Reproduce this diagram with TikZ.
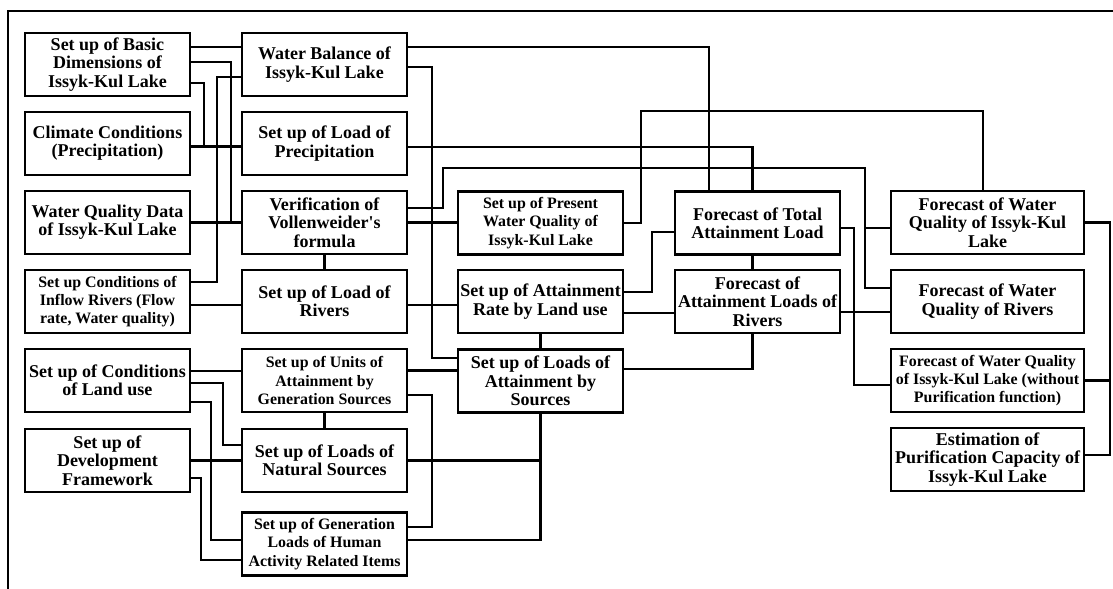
\documentclass[tikz,border=0pt]{standalone}
\usepackage{fontspec}
\setmainfont{Liberation Serif}
\usetikzlibrary{calc}
\tikzset{
  blk/.style={draw, line width=2.1bp, minimum width=165bp, minimum height=63bp,
    inner sep=0pt, align=center, font=\bfseries\fontsize{18bp}{18.3bp}\selectfont},
  sml/.style={font=\bfseries\fontsize{15.9bp}{18.3bp}\selectfont},
  wide/.style={minimum width=193bp},
  wire/.style={line width=2.1bp},
  frame/.style={line width=1.8bp},
}
\begin{document}
\begin{tikzpicture}[x=1bp,y=-1bp]
\useasboundingbox (0,0) rectangle (1113,589);
% outer frame
\draw[frame] (8,589) -- (8,11) -- (1113,11);

% column 1
\node[blk] (B1) at (107.5,64.5) {Set up of Basic\\Dimensions of\\Issyk-Kul Lake};
\node[blk] (B2) at (107.5,143.5) {Climate Conditions\\(Precipitation)};
\node[blk] (B3) at (107.5,222.5) {Water Quality Data\\of Issyk-Kul Lake};
\node[blk,sml] (B4) at (107.5,301.5) {Set up Conditions of\\Inflow Rivers (Flow\\rate, Water quality)};
\node[blk] (B5) at (107.5,380.5) {Set up of Conditions\\of Land use};
\node[blk] (B6) at (107.5,460.5) {Set up of\\Development\\Framework};

% column 2
\node[blk] (C1) at (324.5,64.5) {Water Balance of\\Issyk-Kul Lake};
\node[blk] (C2) at (324.5,143.5) {Set up of Load of\\Precipitation};
\node[blk] (C3) at (324.5,222.5) {Verification of\\Vollenweider\textquotesingle s\\formula};
\node[blk] (C4) at (324.5,301.5) {Set up of Load of\\Rivers};
\node[blk,sml] (C5) at (324.5,380.5) {Set up of Units of\\Attainment by\\Generation Sources};
\node[blk] (C6) at (324.5,460.5) {Set up of Loads of\\Natural Sources};
\node[blk,sml] (C7) at (324.5,544) {Set up of Generation\\Loads of Human\\Activity Related Items};

% column 3
\node[blk,sml] (D1) at (540.5,223) {Set up of Present\\Water Quality of\\Issyk-Kul Lake};
\node[blk] (D2) at (540.5,301.5) {Set up of Attainment\\Rate by Land use};
\node[blk] (D3) at (540.5,381) {Set up of Loads of\\Attainment by\\Sources};

% column 4
\node[blk] (E1) at (757.5,223) {Forecast of Total\\Attainment Load};
\node[blk] (E2) at (757.5,301.5) {Forecast of\\Attainment Loads of\\Rivers};

% column 5
\node[blk,wide] (F1) at (987.5,222.5) {Forecast of Water\\Quality of Issyk-Kul\\Lake};
\node[blk,wide] (F2) at (987.5,301.5) {Forecast of Water\\Quality of Rivers};
\node[blk,wide,sml] (F3) at (987.5,380.5) {Forecast of Water Quality\\of Issyk-Kul Lake (without\\Purification function)};
\node[blk,wide] (F4) at (987.5,459.5) {Estimation of\\Purification Capacity of\\Issyk-Kul Lake};

% connectors, left block
\draw[wire] ([yshift=17.5bp]B1.east) -- ([yshift=17.5bp]B1.east -| C1.west);
\draw[wire] ([yshift=2.5bp]B1.east) -| ([xshift=-10bp]C3.west);
\draw[wire] ([yshift=-18.5bp]B1.east) -| ([xshift=-37bp,yshift=-3bp]C2.west);
\draw[wire] ([yshift=19.5bp]B4.east) -| ([xshift=-24bp,yshift=-12.5bp]C1.west) -- ([yshift=-12.5bp]C1.west);
\draw[wire] ([yshift=-3bp]B2.east) -- ([yshift=-3bp]B2.east -| C2.west);
\draw[wire] (B3.east) -- (B3.east -| C3.west);
\draw[wire] ([yshift=-3.5bp]B4.east) -- ([yshift=-3.5bp]B4.east -| C4.west);
\draw[wire] (C3.south) -- (C4.north);
\draw[wire] ([yshift=9.5bp]B5.east) -- ([yshift=9.5bp]B5.east -| C5.west);
\draw[wire] ([yshift=-2.5bp]B5.east) -| ([xshift=-18bp,yshift=15.5bp]C6.west) -- ([yshift=15.5bp]C6.west);
\draw[wire] ([yshift=-21.5bp]B5.east) -| ([xshift=-30bp,yshift=4bp]C7.west) -- ([yshift=4bp]C7.west);
\draw[wire] (B6.east) -- (B6.east -| C6.west);
\draw[wire] ([yshift=-17.5bp]B6.east) -| ([xshift=-40bp,yshift=-16bp]C7.west) -- ([yshift=-16bp]C7.west);
\draw[wire] (C5.south) -- (C6.north);
\draw[wire] ([yshift=-14.5bp]C5.east) -| ([xshift=24bp,yshift=17bp]C7.east) -- ([yshift=17bp]C7.east);

% connectors, middle block
\draw[wire] (D3.south) |- (C6.east);
\draw[wire] (D3.south) |- ([yshift=4bp]C7.east);
\draw[wire] ([yshift=10bp]C5.east) -- ([yshift=10bp]C5.east -| D3.west);
\draw[wire] ([yshift=-2.5bp]C1.east) -| ([xshift=-25bp,yshift=23bp]D3.west) -- ([yshift=23bp]D3.west);
\draw[wire] ([yshift=17.5bp]C1.east) -| ([xshift=-48.5bp]E1.north);
\draw[wire] ([yshift=-3.5bp]C2.east) -| ([xshift=-5bp]E1.north);
\draw[wire] ([yshift=14.5bp]C3.east) -- ++(35,0) |- ([xshift=-25bp,yshift=54.5bp]F1.west)
  -- ([xshift=-25bp,yshift=13.5bp]F2.west) -- ([yshift=13.5bp]F2.west);
\draw[wire] ([xshift=-25bp,yshift=-5.5bp]F1.west) -- ([yshift=-5.5bp]F1.west);
\draw[wire] (C3.east) -- (C3.east -| D1.west);
\draw[wire] (D1.east) -- ++(17,0) -- ++(0,-112) -| ([xshift=-4.5bp]F1.north);
\draw[wire] ([yshift=-3.5bp]C4.east) -- ([yshift=-3.5bp]C4.east -| D2.west);
\draw[wire] (D2.south) -- (D3.north);
\draw[wire] ([yshift=9.5bp]D2.east) -| ([xshift=-22bp,yshift=-9bp]E1.west) -- ([yshift=-9bp]E1.west);
\draw[wire] ([yshift=-11.5bp]D2.east) -- ([yshift=-11.5bp]D2.east -| E2.west);
\draw[wire] ([xshift=-5bp]E1.south) -- ([xshift=-5bp]E2.north);
\draw[wire] ([xshift=-5bp]E2.south) |- ([yshift=12bp]D3.east);

% connectors, right block
\draw[wire] ([yshift=-5bp]E1.east) -| ([xshift=-36bp,yshift=-4.5bp]F3.west) -- ([yshift=-4.5bp]F3.west);
\draw[wire] ([yshift=-10.5bp]E2.east) -- ([yshift=-10.5bp]E2.east -| F2.west);
\draw[wire] (F1.east) -| ([xshift=25bp,yshift=4.5bp]F4.east) -- ([yshift=4.5bp]F4.east);
\draw[wire] (F3.east) -- ++(25,0);
\end{tikzpicture}
\end{document}
